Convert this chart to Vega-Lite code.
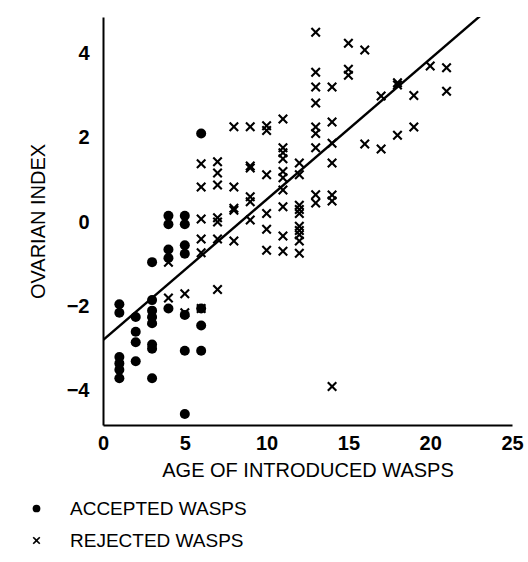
{
  "$schema": "https://vega.github.io/schema/vega-lite/v6.json",
  "width": 409,
  "height": 408,
  "autosize": "none",
  "padding": {"left": 103, "top": 17, "right": 16, "bottom": 137},
  "background": "white",
  "config": {
    "view": {"stroke": null},
    "font": "Liberation Sans",
    "axis": {
      "grid": false,
      "ticks": false,
      "domainColor": "black",
      "domainWidth": 2,
      "labelColor": "black",
      "titleColor": "black",
      "labelFont": "Liberation Sans",
      "titleFont": "Liberation Sans",
      "labelFontWeight": "bold",
      "labelFontSize": 20,
      "titleFontWeight": "normal",
      "titleFontSize": 20
    }
  },
  "layer": [
    {
      "data": {
        "values": [
          {"age": 1, "index": -1.95, "group": "ACCEPTED WASPS"},
          {"age": 1, "index": -2.15, "group": "ACCEPTED WASPS"},
          {"age": 1, "index": -3.2, "group": "ACCEPTED WASPS"},
          {"age": 1, "index": -3.35, "group": "ACCEPTED WASPS"},
          {"age": 1, "index": -3.5, "group": "ACCEPTED WASPS"},
          {"age": 1, "index": -3.7, "group": "ACCEPTED WASPS"},
          {"age": 2, "index": -2.25, "group": "ACCEPTED WASPS"},
          {"age": 2, "index": -2.6, "group": "ACCEPTED WASPS"},
          {"age": 2, "index": -2.85, "group": "ACCEPTED WASPS"},
          {"age": 2, "index": -3.3, "group": "ACCEPTED WASPS"},
          {"age": 3, "index": -0.95, "group": "ACCEPTED WASPS"},
          {"age": 3, "index": -1.85, "group": "ACCEPTED WASPS"},
          {"age": 3, "index": -2.1, "group": "ACCEPTED WASPS"},
          {"age": 3, "index": -2.25, "group": "ACCEPTED WASPS"},
          {"age": 3, "index": -2.4, "group": "ACCEPTED WASPS"},
          {"age": 3, "index": -2.9, "group": "ACCEPTED WASPS"},
          {"age": 3, "index": -3.0, "group": "ACCEPTED WASPS"},
          {"age": 3, "index": -3.7, "group": "ACCEPTED WASPS"},
          {"age": 4, "index": 0.15, "group": "ACCEPTED WASPS"},
          {"age": 4, "index": -0.05, "group": "ACCEPTED WASPS"},
          {"age": 4, "index": -0.65, "group": "ACCEPTED WASPS"},
          {"age": 4, "index": -0.85, "group": "ACCEPTED WASPS"},
          {"age": 4, "index": -2.05, "group": "ACCEPTED WASPS"},
          {"age": 5, "index": 0.15, "group": "ACCEPTED WASPS"},
          {"age": 5, "index": -0.05, "group": "ACCEPTED WASPS"},
          {"age": 5, "index": -0.55, "group": "ACCEPTED WASPS"},
          {"age": 5, "index": -0.75, "group": "ACCEPTED WASPS"},
          {"age": 5, "index": -2.2, "group": "ACCEPTED WASPS"},
          {"age": 5, "index": -3.05, "group": "ACCEPTED WASPS"},
          {"age": 5, "index": -4.55, "group": "ACCEPTED WASPS"},
          {"age": 6, "index": 2.1, "group": "ACCEPTED WASPS"},
          {"age": 6, "index": -2.05, "group": "ACCEPTED WASPS"},
          {"age": 6, "index": -2.45, "group": "ACCEPTED WASPS"},
          {"age": 6, "index": -3.05, "group": "ACCEPTED WASPS"},
          {"age": 3, "index": -2.35, "group": "REJECTED WASPS"},
          {"age": 4, "index": -0.95, "group": "REJECTED WASPS"},
          {"age": 4, "index": -1.8, "group": "REJECTED WASPS"},
          {"age": 5, "index": -1.7, "group": "REJECTED WASPS"},
          {"age": 5, "index": -2.15, "group": "REJECTED WASPS"},
          {"age": 6, "index": 1.38, "group": "REJECTED WASPS"},
          {"age": 6, "index": 0.83, "group": "REJECTED WASPS"},
          {"age": 6, "index": 0.07, "group": "REJECTED WASPS"},
          {"age": 6, "index": -0.4, "group": "REJECTED WASPS"},
          {"age": 6, "index": -0.73, "group": "REJECTED WASPS"},
          {"age": 6, "index": -2.05, "group": "REJECTED WASPS"},
          {"age": 7, "index": 1.43, "group": "REJECTED WASPS"},
          {"age": 7, "index": 1.16, "group": "REJECTED WASPS"},
          {"age": 7, "index": 0.88, "group": "REJECTED WASPS"},
          {"age": 7, "index": 0.1, "group": "REJECTED WASPS"},
          {"age": 7, "index": 0.0, "group": "REJECTED WASPS"},
          {"age": 7, "index": -0.4, "group": "REJECTED WASPS"},
          {"age": 7, "index": -1.6, "group": "REJECTED WASPS"},
          {"age": 8, "index": 2.26, "group": "REJECTED WASPS"},
          {"age": 8, "index": 0.83, "group": "REJECTED WASPS"},
          {"age": 8, "index": 0.33, "group": "REJECTED WASPS"},
          {"age": 8, "index": 0.28, "group": "REJECTED WASPS"},
          {"age": 8, "index": -0.45, "group": "REJECTED WASPS"},
          {"age": 9, "index": 2.26, "group": "REJECTED WASPS"},
          {"age": 9, "index": 1.33, "group": "REJECTED WASPS"},
          {"age": 9, "index": 1.28, "group": "REJECTED WASPS"},
          {"age": 9, "index": 0.6, "group": "REJECTED WASPS"},
          {"age": 9, "index": 0.48, "group": "REJECTED WASPS"},
          {"age": 9, "index": 0.05, "group": "REJECTED WASPS"},
          {"age": 10, "index": 2.28, "group": "REJECTED WASPS"},
          {"age": 10, "index": 2.17, "group": "REJECTED WASPS"},
          {"age": 10, "index": 1.12, "group": "REJECTED WASPS"},
          {"age": 10, "index": 0.2, "group": "REJECTED WASPS"},
          {"age": 10, "index": -0.17, "group": "REJECTED WASPS"},
          {"age": 10, "index": -0.67, "group": "REJECTED WASPS"},
          {"age": 11, "index": 2.44, "group": "REJECTED WASPS"},
          {"age": 11, "index": 1.76, "group": "REJECTED WASPS"},
          {"age": 11, "index": 1.64, "group": "REJECTED WASPS"},
          {"age": 11, "index": 1.5, "group": "REJECTED WASPS"},
          {"age": 11, "index": 1.2, "group": "REJECTED WASPS"},
          {"age": 11, "index": 1.05, "group": "REJECTED WASPS"},
          {"age": 11, "index": 0.76, "group": "REJECTED WASPS"},
          {"age": 11, "index": 0.36, "group": "REJECTED WASPS"},
          {"age": 11, "index": -0.33, "group": "REJECTED WASPS"},
          {"age": 11, "index": -0.69, "group": "REJECTED WASPS"},
          {"age": 12, "index": 1.4, "group": "REJECTED WASPS"},
          {"age": 12, "index": 1.12, "group": "REJECTED WASPS"},
          {"age": 12, "index": 0.4, "group": "REJECTED WASPS"},
          {"age": 12, "index": 0.3, "group": "REJECTED WASPS"},
          {"age": 12, "index": 0.2, "group": "REJECTED WASPS"},
          {"age": 12, "index": -0.1, "group": "REJECTED WASPS"},
          {"age": 12, "index": -0.2, "group": "REJECTED WASPS"},
          {"age": 12, "index": -0.3, "group": "REJECTED WASPS"},
          {"age": 12, "index": -0.45, "group": "REJECTED WASPS"},
          {"age": 12, "index": -0.74, "group": "REJECTED WASPS"},
          {"age": 13, "index": 4.5, "group": "REJECTED WASPS"},
          {"age": 13, "index": 3.55, "group": "REJECTED WASPS"},
          {"age": 13, "index": 3.2, "group": "REJECTED WASPS"},
          {"age": 13, "index": 2.82, "group": "REJECTED WASPS"},
          {"age": 13, "index": 2.25, "group": "REJECTED WASPS"},
          {"age": 13, "index": 2.1, "group": "REJECTED WASPS"},
          {"age": 13, "index": 1.76, "group": "REJECTED WASPS"},
          {"age": 13, "index": 0.65, "group": "REJECTED WASPS"},
          {"age": 13, "index": 0.45, "group": "REJECTED WASPS"},
          {"age": 14, "index": 3.2, "group": "REJECTED WASPS"},
          {"age": 14, "index": 2.37, "group": "REJECTED WASPS"},
          {"age": 14, "index": 1.87, "group": "REJECTED WASPS"},
          {"age": 14, "index": 1.4, "group": "REJECTED WASPS"},
          {"age": 14, "index": 0.64, "group": "REJECTED WASPS"},
          {"age": 14, "index": 0.5, "group": "REJECTED WASPS"},
          {"age": 14, "index": -3.9, "group": "REJECTED WASPS"},
          {"age": 15, "index": 4.24, "group": "REJECTED WASPS"},
          {"age": 15, "index": 3.62, "group": "REJECTED WASPS"},
          {"age": 15, "index": 3.48, "group": "REJECTED WASPS"},
          {"age": 16, "index": 4.08, "group": "REJECTED WASPS"},
          {"age": 16, "index": 1.85, "group": "REJECTED WASPS"},
          {"age": 17, "index": 2.99, "group": "REJECTED WASPS"},
          {"age": 17, "index": 1.73, "group": "REJECTED WASPS"},
          {"age": 18, "index": 3.3, "group": "REJECTED WASPS"},
          {"age": 18, "index": 3.25, "group": "REJECTED WASPS"},
          {"age": 18, "index": 2.06, "group": "REJECTED WASPS"},
          {"age": 19, "index": 3.0, "group": "REJECTED WASPS"},
          {"age": 19, "index": 2.25, "group": "REJECTED WASPS"},
          {"age": 20, "index": 3.7, "group": "REJECTED WASPS"},
          {"age": 21, "index": 3.66, "group": "REJECTED WASPS"},
          {"age": 21, "index": 3.1, "group": "REJECTED WASPS"}
        ]
      },
      "mark": {"type": "point", "filled": true, "fill": "black", "strokeWidth": 0, "opacity": 1, "size": 100},
      "encoding": {
        "x": {
          "field": "age", "type": "quantitative",
          "scale": {"domain": [0, 25], "nice": false, "zero": false},
          "axis": {"values": [0, 5, 10, 15, 20, 25], "title": "AGE OF INTRODUCED WASPS", "labelPadding": 8, "titlePadding": 7, "labelFlush": false}
        },
        "y": {
          "field": "index", "type": "quantitative",
          "scale": {"domain": [-4.81, 4.86], "nice": false, "zero": false},
          "axis": {"values": [-4, -2, 0, 2, 4], "title": "OVARIAN INDEX", "labelPadding": 14, "titlePadding": 18}
        },
        "shape": {
          "field": "group", "type": "nominal",
          "scale": {"domain": ["ACCEPTED WASPS", "REJECTED WASPS"], "range": ["circle", "M-1,-0.7L-0.3,0L-1,0.7L-0.7,1L0,0.3L0.7,1L1,0.7L0.3,0L1,-0.7L0.7,-1L0,-0.3L-0.7,-1Z"]},
          "legend": {
            "title": null, "orient": "none", "legendX": -76, "legendY": 482,
            "labelFontSize": 19, "labelFont": "Liberation Sans", "labelColor": "black", "labelLimit": 400,
            "symbolFillColor": "black", "symbolSize": 60, "symbolStrokeWidth": 0,
            "rowPadding": 12, "labelOffset": 24, "padding": 0
          }
        }
      }
    },
    {
      "data": {"values": [{"age": 0, "index": -2.8}, {"age": 23.1, "index": 4.9}]},
      "mark": {"type": "line", "color": "black", "strokeWidth": 2.4, "clip": true},
      "encoding": {
        "x": {"field": "age", "type": "quantitative"},
        "y": {"field": "index", "type": "quantitative"}
      }
    }
  ]
}
